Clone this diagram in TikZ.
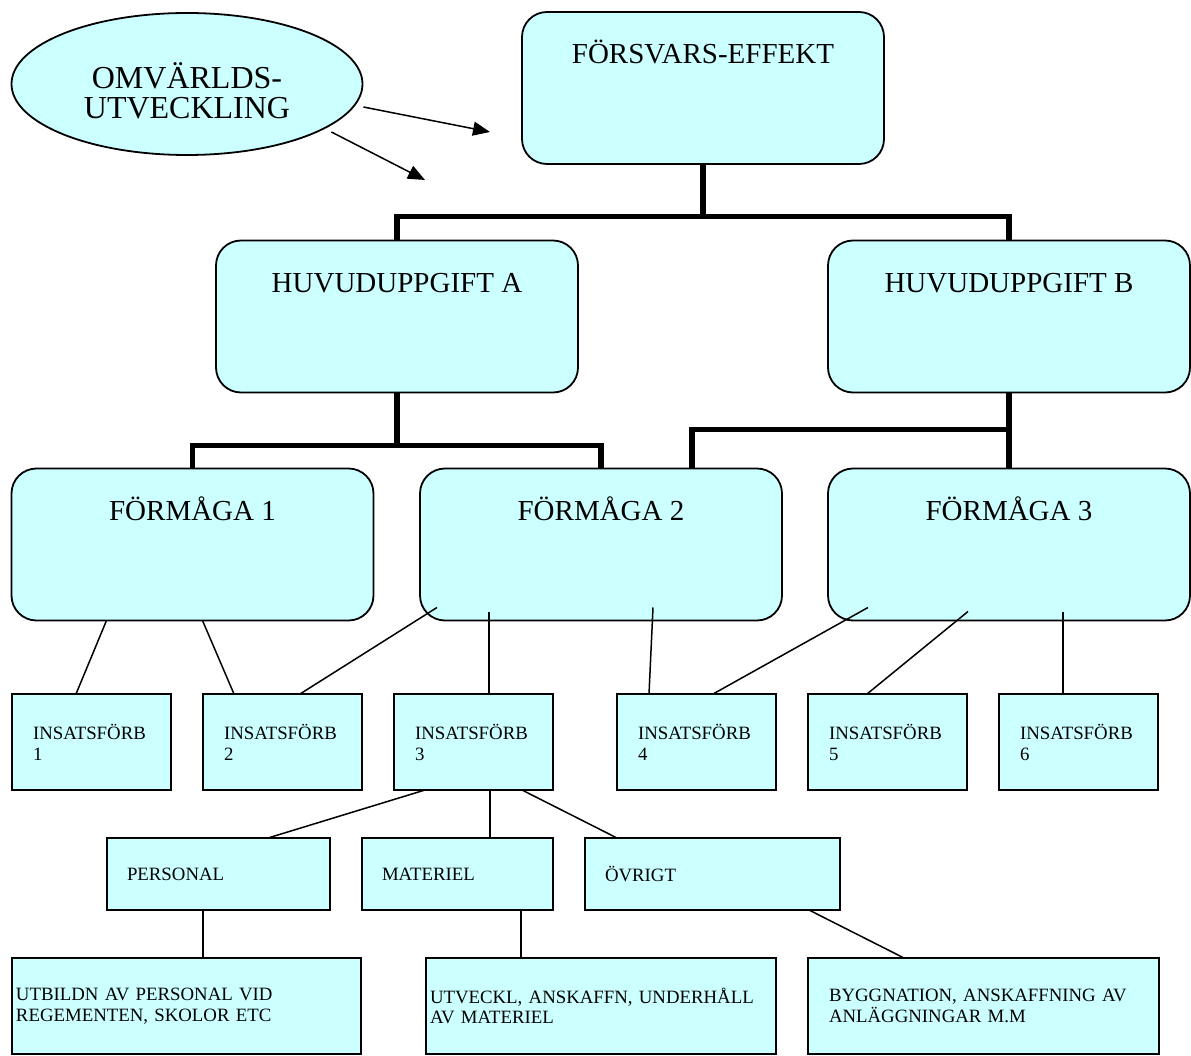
\documentclass[tikz,border=0pt]{standalone}
\usepackage{fontspec}
\setmainfont{Liberation Serif}
\usetikzlibrary{arrows.meta,shapes.geometric}

\definecolor{boxcyan}{HTML}{CCFFFF}

\tikzset{
  bigbox/.style={draw, line width=1.8pt, fill=boxcyan, rounded corners=25pt,
    minimum width=362pt, minimum height=152pt, inner sep=0pt, outer sep=0pt},
  bigtext/.style={font=\fontsize{29}{32}\selectfont},
  boxtitle/.style={label={[bigtext, anchor=base, label distance=-52pt]north:#1}},
  omvtext/.style={align=center, font=\fontsize{32}{30}\selectfont, yshift=-7pt},
  smallbox/.style={draw, line width=2pt, fill=boxcyan, rectangle, align=left,
    inner ysep=0pt, outer sep=0pt, font=\fontsize{18.8}{21}\selectfont},
  insbox/.style={smallbox, minimum height=96pt, inner xsep=21pt, text width=117pt},
  costbox/.style={smallbox, minimum height=72pt, inner xsep=20pt, text width=#1},
  lowbox/.style={smallbox, minimum height=96pt, font=\fontsize{18.8}{20.5}\selectfont},
  trunk/.style={line width=5.5pt},
  link/.style={line width=1.5pt},
  pointer/.style={line width=1.5pt, -{Triangle[length=17pt,width=14pt]}}
}

\begin{document}
\begin{tikzpicture}[x=1pt, y=-1pt]
  \useasboundingbox (0,0) rectangle (1191,1056);

  % omvarld
  \node[ellipse, draw, line width=1.8pt, fill=boxcyan, minimum width=351pt,
    minimum height=142pt, inner sep=0pt,
    label={[omvtext]center:OMVÄRLDS-\\UTVECKLING}] (omv) at (187,84) {};
  \coordinate (tip1) at (490,132);
  \coordinate (tip2) at (425,180);
  \draw[pointer] ([yshift=-23pt]omv.east) -- (tip1);
  \draw[pointer] ([xshift=-32pt,yshift=-48pt]omv.east) -- (tip2);

  % rounded boxes
  \node[bigbox, boxtitle=FÖRSVARS-EFFEKT] (fe) at (703,88) {};
  \node[bigbox, boxtitle=HUVUDUPPGIFT A] (hA) at (397,316.5) {};
  \node[bigbox, boxtitle=HUVUDUPPGIFT B] (hB) at (1009,316.5) {};
  \node[bigbox, boxtitle=FÖRMÅGA 1] (f1) at (192.5,544.5) {};
  \node[bigbox, boxtitle=FÖRMÅGA 2] (f2) at (601,544.5) {};
  \node[bigbox, boxtitle=FÖRMÅGA 3] (f3) at (1009,544.5) {};

  % insatsforband
  \foreach \n/\x in {1/91.5, 2/282.5, 3/473.5, 4/696.5, 5/887.5, 6/1078.5}
    \node[insbox] (ins\n) at (\x,742) {INSATSFÖRB\\\n};

  \node[costbox=183pt] (pers) at (218.5,874) {PERSONAL};
  \node[costbox=151pt] (mat) at (457.5,874) {MATERIEL};
  \node[costbox=215pt] (ovr) at (712.5,874) {ÖVRIGT};

  \node[lowbox, inner xsep=4pt, text width=341pt] (utb) at (186.5,1006)
    {UTBILDN AV PERSONAL VID\\REGEMENTEN, SKOLOR ETC};
  \node[lowbox, inner xsep=4pt, text width=342pt] (utv) at (601,1006)
    {UTVECKL, ANSKAFFN, UNDERHÅLL\\AV MATERIEL};
  \node[lowbox, inner xsep=21pt, text width=309pt] (bygg) at (983.5,1006)
    {BYGGNATION, ANSKAFFNING AV\\ANLÄGGNINGAR M.M};

  % thick tree lines
  \draw[trunk] (fe.south) -- ++(0,52);
  \draw[trunk] (hA.north) -- ++(0,-24) -| (hB.north);
  \draw[trunk] (hA.south) -- ++(0,52);
  \draw[trunk] (f1.north) -- ++(0,-23) -| (f2.north);
  \draw[trunk] (hB.south) -- (f3.north);
  \draw[trunk] ([xshift=91pt]f2.north) |- ([yshift=-37pt]hB.south);

  % thin lines
  \draw[link] ([xshift=95pt]f1.south west) -- ([xshift=64pt]ins1.north west);
  \draw[link] ([xshift=191pt]f1.south west) -- ([xshift=31pt]ins2.north west);
  \draw[link] ([xshift=17pt,yshift=13pt]f2.south west) -- ([xshift=97pt]ins2.north west);
  \draw[link] ([xshift=69pt,yshift=9pt]f2.south west) -- ([xshift=95pt]ins3.north west);
  \draw[link] ([xshift=233pt,yshift=13pt]f2.south west) -- ([xshift=32pt]ins4.north west);
  \draw[link] ([xshift=40pt,yshift=13pt]f3.south west) -- ([xshift=96pt]ins4.north west);
  \draw[link] ([xshift=140pt,yshift=9pt]f3.south west) -- ([xshift=59pt]ins5.north west);
  \draw[link] ([xshift=235pt,yshift=9pt]f3.south west) -- ([xshift=64pt]ins6.north west);
  \draw[link] ([xshift=31pt]ins3.south west) -- ([xshift=161pt]pers.north west);
  \draw[link] ([xshift=96pt]ins3.south west) -- ([xshift=128pt]mat.north west);
  \draw[link] ([xshift=128pt]ins3.south west) -- ([xshift=32pt]ovr.north west);
  \draw[link] ([xshift=96pt]pers.south west) -- ([xshift=191pt]utb.north west);
  \draw[link] ([xshift=159pt]mat.south west) -- ([xshift=95pt]utv.north west);
  \draw[link] ([xshift=224pt]ovr.south west) -- ([xshift=96pt]bygg.north west);
\end{tikzpicture}
\end{document}
